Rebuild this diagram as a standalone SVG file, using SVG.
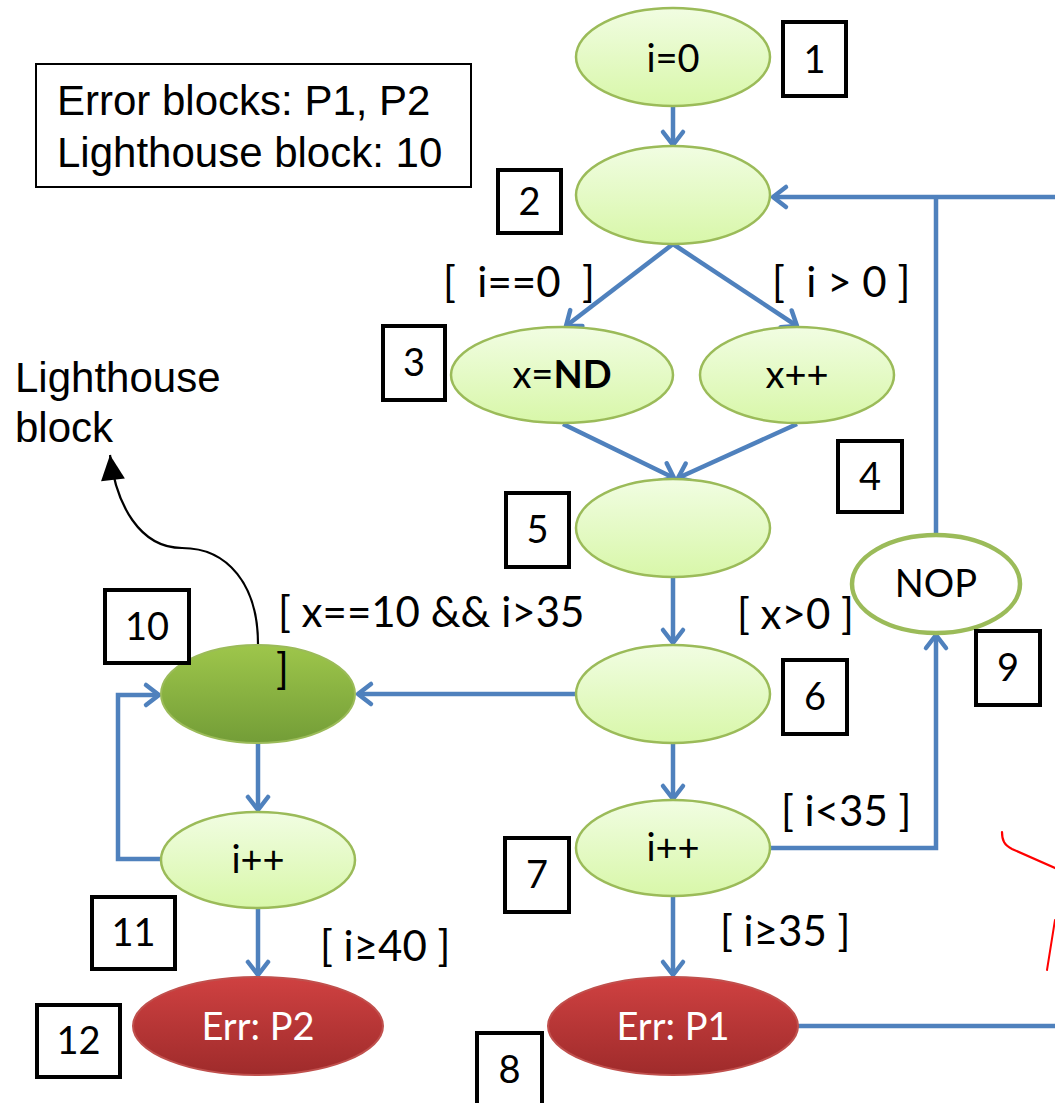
<svg xmlns="http://www.w3.org/2000/svg" width="1055" height="1103" viewBox="0 0 1055 1103">
<style>
.lg{fill:url(#gLight);stroke:#9bbb59;stroke-width:2.5}
.dg{fill:url(#gDark);stroke:#9bbb59;stroke-width:2}
.rd{fill:url(#gRed);stroke:#c0504d;stroke-width:2}
.nt{font-family:Lato,"Liberation Sans",sans-serif;font-size:38px;fill:#000;text-anchor:middle}
.wt{font-family:Lato,"Liberation Sans",sans-serif;font-size:38px;fill:#fff;text-anchor:middle}
.lb{font-family:Lato,"Liberation Sans",sans-serif;font-size:42px;fill:#000}
.ar{font-family:"Liberation Sans",Arial,sans-serif;font-size:42px;fill:#000}
.bx{fill:#fff;stroke:#000;stroke-width:4}
.bn{font-family:Lato,"Liberation Sans",sans-serif;font-size:38px;fill:#000;text-anchor:middle}
.cn{fill:none;stroke:#4f81bd;stroke-width:4.5}
.ca{fill:none;stroke:#4f81bd;stroke-width:4.5;marker-end:url(#ah)}
</style>
<defs>
<linearGradient id="gLight" x1="0" y1="0" x2="0" y2="1">
<stop offset="0" stop-color="#f1fde2"/><stop offset="1" stop-color="#d8f7a9"/>
</linearGradient>
<linearGradient id="gDark" x1="0" y1="0" x2="0" y2="1">
<stop offset="0" stop-color="#9ec64b"/><stop offset="1" stop-color="#739d37"/>
</linearGradient>
<linearGradient id="gRed" x1="0" y1="0" x2="0" y2="1">
<stop offset="0" stop-color="#cf4141"/><stop offset="1" stop-color="#9f2b2b"/>
</linearGradient>
<marker id="ah" markerUnits="userSpaceOnUse" markerWidth="40" markerHeight="40" viewBox="-20 -20 40 40" refX="0" refY="0" orient="auto" overflow="visible">
<path d="M-13,-10 L0,0 L-13,10" fill="none" stroke="#4f81bd" stroke-width="4.5" stroke-linecap="round" stroke-linejoin="round"/>
</marker>
<marker id="bh" markerUnits="userSpaceOnUse" markerWidth="40" markerHeight="40" viewBox="-30 -20 40 40" refX="0" refY="0" orient="auto" overflow="visible">
<path d="M0,0 L-25,-12 L-25,12 Z" fill="#000"/>
</marker>
</defs>
<rect width="1055" height="1103" fill="#fff"/>

<g id="connectors">
<path class="ca" d="M673,106 L673,145"/>
<path class="ca" d="M673,244 L566,326"/>
<path class="ca" d="M673,244 L797,326"/>
<path class="ca" d="M563,424 L674,478"/>
<path class="ca" d="M797,424 L678,478"/>
<path class="ca" d="M673,577 L673,643"/>
<path class="ca" d="M576,694 L358,694"/>
<path class="ca" d="M673,743 L673,799"/>
<path class="ca" d="M673,896 L673,975"/>
<path class="ca" d="M771,848 L936,848 L936,635"/>
<path class="cn" d="M936,534 L936,197"/>
<path class="ca" d="M1055,197 L773,197"/>
<path class="cn" d="M798,1026 L1055,1026"/>
<path class="ca" d="M258,743 L258,810"/>
<path class="ca" d="M161,859 L118,859 L118,695 L159,695"/>
<path class="ca" d="M258,908 L258,975"/>
<path d="M258,644 C258,585 228,548 182,548 C140,548 116,505 110,455" fill="none" stroke="#000" stroke-width="2.2" marker-end="url(#bh)"/>
</g>

<g id="legend">
<rect x="36" y="64" width="435" height="123" fill="#fff" stroke="#000" stroke-width="2"/>
<text class="ar" x="57" y="115">Error blocks: P1, P2</text>
<text class="ar" x="57" y="167">Lighthouse block: 10</text>
</g>

<g id="lighthouse-label">
<text class="ar" x="15" y="392">Lighthouse</text>
<text class="ar" x="15" y="442">block</text>
</g>

<g id="n1"><ellipse class="lg" cx="673" cy="57" rx="97" ry="49"/><text class="nt" x="673" y="72">i=0</text></g>
<g id="n2"><ellipse class="lg" cx="673" cy="195" rx="97" ry="49"/></g>
<g id="n3"><ellipse class="lg" cx="562" cy="375" rx="111" ry="48"/><text class="nt" x="562" y="388">x=<tspan font-weight="bold">ND</tspan></text></g>
<g id="n4"><ellipse class="lg" cx="797" cy="375" rx="97" ry="48"/><text class="nt" x="797" y="388">x++</text></g>
<g id="n5"><ellipse class="lg" cx="673" cy="528" rx="97" ry="49"/></g>
<g id="n6"><ellipse class="lg" cx="673" cy="694" rx="97" ry="49"/></g>
<g id="n7"><ellipse class="lg" cx="673" cy="848" rx="97" ry="48"/><text class="nt" x="673" y="861">i++</text></g>
<g id="n8"><ellipse class="rd" cx="673" cy="1026" rx="125" ry="49"/><text class="wt" x="673" y="1040">Err: P1</text></g>
<g id="n9"><ellipse cx="936" cy="584" rx="84" ry="49" fill="#fff" stroke="#9bbb59" stroke-width="4.5"/><text class="nt" x="936" y="597">NOP</text></g>
<g id="n10"><ellipse class="dg" cx="258" cy="694" rx="97" ry="49"/></g>
<g id="n11"><ellipse class="lg" cx="258" cy="860" rx="97" ry="48"/><text class="nt" x="258" y="873">i++</text></g>
<g id="n12"><ellipse class="rd" cx="258" cy="1026" rx="125" ry="49"/><text class="wt" x="258" y="1040">Err: P2</text></g>

<g id="edge-labels">
<text class="lb" x="443" y="297" xml:space="preserve">[  i==0  ]</text>
<text class="lb" x="772" y="297" xml:space="preserve">[  i &gt; 0 ]</text>
<text class="lb" x="737" y="629">[ x&gt;0 ]</text>
<text class="lb" x="278" y="627">[ x==10 &amp;&amp; i&gt;35</text>
<text class="lb" x="276" y="684">]</text>
<text class="lb" x="781" y="826">[ i&lt;35 ]</text>
<text class="lb" x="720" y="946">[ i≥35 ]</text>
<text class="lb" x="320" y="961">[ i≥40 ]</text>
</g>

<g id="box-labels">
<g id="b1"><rect class="bx" x="783" y="22" width="63" height="74"/><text class="bn" x="814.5" y="73">1</text></g>
<g id="b2"><rect class="bx" x="498" y="170" width="63" height="63"/><text class="bn" x="529.5" y="215">2</text></g>
<g id="b3"><rect class="bx" x="383" y="326" width="62" height="74"/><text class="bn" x="414" y="376">3</text></g>
<g id="b4"><rect class="bx" x="838" y="441" width="64" height="71"/><text class="bn" x="870" y="490">4</text></g>
<g id="b5"><rect class="bx" x="506" y="493" width="63" height="74"/><text class="bn" x="537.5" y="543">5</text></g>
<g id="b6"><rect class="bx" x="783" y="660" width="64" height="74"/><text class="bn" x="815" y="710">6</text></g>
<g id="b7"><rect class="bx" x="505" y="838" width="64" height="74"/><text class="bn" x="537" y="888">7</text></g>
<g id="b8"><rect class="bx" x="477" y="1033" width="65" height="72"/><text class="bn" x="509.5" y="1083">8</text></g>
<g id="b9"><rect class="bx" x="976" y="631" width="64" height="74"/><text class="bn" x="1008" y="681">9</text></g>
<g id="b10"><rect class="bx" x="105" y="590" width="84" height="73"/><text class="bn" x="147" y="640">10</text></g>
<g id="b11"><rect class="bx" x="92" y="897" width="83" height="72"/><text class="bn" x="133.5" y="946">11</text></g>
<g id="b12"><rect class="bx" x="37" y="1005" width="83" height="72"/><text class="bn" x="78.5" y="1054">12</text></g>
</g>

<g id="annotations">
<path d="M1002,832 C1002,840 1004,845 1012,849 L1055,868" fill="none" stroke="#ff0000" stroke-width="2.2" stroke-linecap="round"/>
<path d="M1055,920 L1047,970" fill="none" stroke="#ff0000" stroke-width="2" stroke-linecap="round"/>
</g>
</svg>
